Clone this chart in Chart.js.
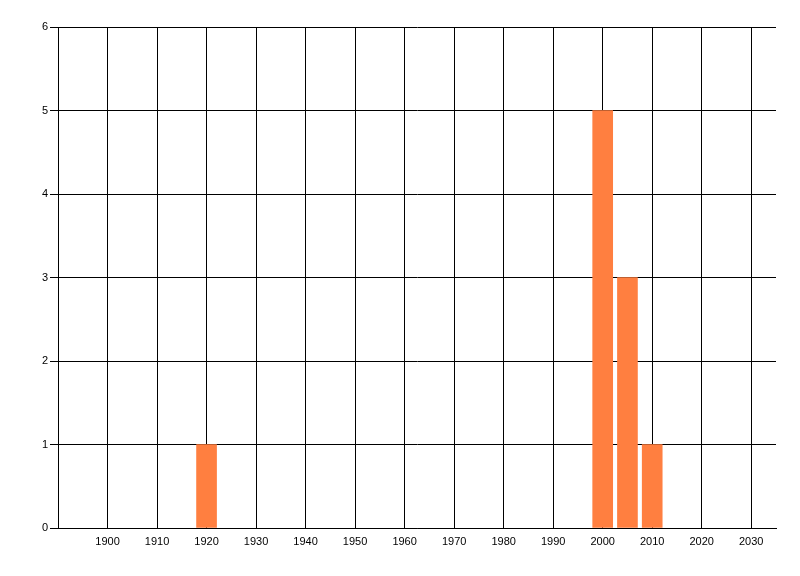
<!DOCTYPE html>
<html>
<head>
<meta charset="utf-8">
<script src="https://cdn.jsdelivr.net/npm/chart.js@4/dist/chart.umd.min.js"></script>
<style>
  html, body { margin: 0; padding: 0; background: #fff; }
  #wrap { width: 800px; height: 576px; }
</style>
</head>
<body>
<div id="wrap"><canvas id="chart"></canvas></div>
<script>
// data
const years = [1920, 2000, 2005, 2010];
const counts = [1, 5, 3, 1];
const xTicks = [1900, 1910, 1920, 1930, 1940, 1950, 1960, 1970, 1980, 1990, 2000, 2010, 2020, 2030];
const yTicks = [0, 1, 2, 3, 4, 5, 6];

const font = { family: 'Liberation Sans, Arial, sans-serif', size: 11 };

const ctx = document.getElementById('chart').getContext('2d');
new Chart(ctx, {
  type: 'bar',
  data: {
    datasets: [{
      data: years.map((y, i) => ({ x: y, y: counts[i] })),
      backgroundColor: '#ff7f40',
      borderWidth: 0,
      barThickness: 20
    }]
  },
  options: {
    responsive: true,
    maintainAspectRatio: false,
    animation: false,
    layout: { padding: { top: 27, right: 24, left: 0, bottom: 0 } },
    plugins: { legend: { display: false }, tooltip: { enabled: false } },
    scales: {
      x: {
        type: 'linear',
        offset: false,
        min: 1890,
        max: 2035,
        afterBuildTicks: s => { s.ticks = xTicks.map(v => ({ value: v })); },
        afterFit: s => { s.height = 48; },
        grid: { color: '#000', lineWidth: 1, drawTicks: false, offset: false },
        border: { color: '#000', width: 1 },
        ticks: { color: '#000', font: font, padding: 7, maxRotation: 0, autoSkip: false,
                 callback: v => String(v) }
      },
      y: {
        min: 0,
        max: 6,
        afterBuildTicks: s => { s.ticks = yTicks.map(v => ({ value: v })); },
        afterFit: s => { s.width = 58; },
        grid: { color: '#000', lineWidth: 1, tickLength: 8 },
        border: { color: '#000', width: 1 },
        ticks: { color: '#000', font: font, padding: 2 }
      }
    }
  }
});
</script>
</body>
</html>
